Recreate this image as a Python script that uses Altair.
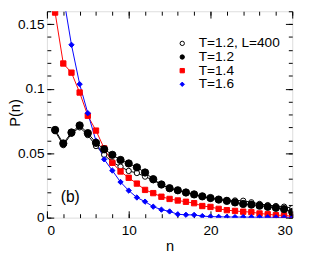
import altair as alt
import pandas as pd

FONT = "Liberation Sans"

series_names = ["T=1.2, L=400", "T=1.2", "T=1.4", "T=1.6"]

n_open = list(range(1, 31))
p_open = [0.067, 0.0562, 0.065, 0.070, 0.064, 0.0555, 0.0487, 0.043, 0.0395, 0.0362,
          0.0346, 0.0318, 0.029, 0.0255, 0.0228, 0.0212, 0.0195, 0.018, 0.0163, 0.015,
          0.014, 0.0135, 0.0133, 0.0131, 0.0119, 0.0106, 0.0097, 0.009, 0.0085, 0.0074]

n_filled = list(range(1, 31))
p_filled = [0.068, 0.0575, 0.066, 0.0715, 0.0655, 0.058, 0.053, 0.0487, 0.0447, 0.042,
            0.039, 0.035, 0.0298, 0.0257, 0.0228, 0.0212, 0.0195, 0.018, 0.0165, 0.0152,
            0.014, 0.013, 0.0118, 0.0106, 0.0101, 0.0093, 0.0084, 0.0076, 0.0066, 0.0044]

n_14 = list(range(1, 31))
p_14 = [0.159, 0.1195, 0.1124, 0.097, 0.079, 0.0675, 0.0537, 0.0425, 0.0358, 0.0309,
        0.0264, 0.0215, 0.019, 0.0162, 0.0145, 0.0133, 0.0123, 0.0112, 0.009, 0.0083,
        0.0068, 0.0058, 0.0052, 0.0046, 0.0043, 0.0032, 0.0026, 0.0019, 0.0018, 0.001]

n_16 = list(range(2, 31))
p_16 = [0.172, 0.134, 0.1035, 0.081, 0.0595, 0.0452, 0.0365, 0.0276, 0.021, 0.0156,
        0.0124, 0.0085, 0.0062, 0.0048, 0.0026, 0.0022, 0.0021, 0.0012, 0.0008, 0.0006,
        0.0005, 0.0004, 0.0004, 0.0003, 0.0003, 0.0003, 0.0002, 0.0002, 0.0002]

x_major = [0, 10, 20, 30]
x_minor = [0, 2, 4, 6, 8, 10, 12, 14, 16, 18, 20, 22, 24, 26, 28, 30]
y_major = [0, 0.05, 0.1, 0.15]
y_minor = [0, 0.01, 0.02, 0.03, 0.04, 0.05, 0.06, 0.07, 0.08, 0.09, 0.1,
           0.11, 0.12, 0.13, 0.14, 0.15, 0.16]

panel_label = ["(b)"]
panel_label_n = [2.85]
panel_label_p = [0.016]

rows = []
for name, ns, ps in zip(series_names, [n_open, n_filled, n_14, n_16],
                        [p_open, p_filled, p_14, p_16]):
    for n, p in zip(ns, ps):
        rows.append({"series": name, "n": n, "p": p})
df = pd.DataFrame(rows)
lab_df = pd.DataFrame({"t": panel_label, "n": panel_label_n, "p": panel_label_p})

xs = alt.Scale(domain=[0, 30], nice=False, zero=False)
ys = alt.Scale(domain=[0, 0.16], nice=False, zero=False)

line_colors = ["black", "black", "#ff0000", "#0000ff"]
stroke_scale = alt.Scale(domain=series_names, range=line_colors)
# data-sorted domain ("T=1.2", "T=1.2, L=400", "T=1.4", "T=1.6") -> same colours
line_scale = alt.Scale(range=line_colors)
fill_scale = alt.Scale(domain=series_names, range=["white", "black", "#ff0000", "#0000ff"])
shape_scale = alt.Scale(domain=series_names, range=["circle", "circle", "square", "diamond"])

MAJ = 7
MIN = 4


def tick_axis(orient, values, size, **kw):
    return alt.Axis(orient=orient, values=values, tickSize=size, offset=-size,
                    domain=False, grid=False, ticks=True, tickColor="black",
                    tickWidth=1, **kw)


ax_bottom = tick_axis("bottom", x_major, MAJ, labels=True, format="d",
                      labelPadding=6, labelFontSize=14, labelFont=FONT,
                      labelColor="black", title="n", titleFont=FONT,
                      titleFontSize=15, titleFontWeight="normal", titleColor="black",
                      titleX=126, titleY=36, titleBaseline="middle")
ax_left = tick_axis("left", y_major, MAJ, labels=True, format=".2~f",
                    labelPadding=3, labelFontSize=14, labelFont=FONT,
                    labelColor="black", title="P(n)", titleFont=FONT,
                    titleFontSize=15, titleFontWeight="normal", titleColor="black",
                    titleX=-40, titleY=104, titleAngle=270, titleBaseline="middle",
                    titleAlign="center")
ax_top = tick_axis("top", x_major, MAJ, labels=False, title=None)
ax_right = tick_axis("right", y_major, MAJ, labels=False, title=None)
ax_bottom_m = tick_axis("bottom", x_minor, MIN, labels=False, title=None)
ax_left_m = tick_axis("left", y_minor, MIN, labels=False, title=None)
ax_top_m = tick_axis("top", x_minor, MIN, labels=False, title=None)
ax_right_m = tick_axis("right", y_minor, MIN, labels=False, title=None)

leg = alt.Legend(title=None, orient="none", legendX=132, legendY=26,
                 labelFont=FONT, labelFontSize=14, labelColor="black",
                 symbolSize=20, symbolStrokeWidth=1, labelOffset=10,
                 rowPadding=0, padding=0)

base = alt.Chart(df)

lines = base.mark_line(strokeWidth=1, clip=True).encode(
    x=alt.X("n:Q", scale=xs, axis=ax_bottom),
    y=alt.Y("p:Q", scale=ys, axis=ax_left),
    color=alt.Color("series:N", scale=line_scale, legend=None),
    detail="series:N",
)

# marker size comes from the point config so that the legend keeps its own symbolSize
points = base.mark_point(opacity=1, strokeWidth=1, clip=True).encode(
    x=alt.X("n:Q", scale=xs, axis=ax_top),
    y=alt.Y("p:Q", scale=ys, axis=ax_right),
    stroke=alt.Stroke("series:N", scale=stroke_scale, legend=leg),
    fill=alt.Fill("series:N", scale=fill_scale, legend=leg),
    shape=alt.Shape("series:N", scale=shape_scale, legend=leg),
)

# the filled T=1.2 circles are drawn a little larger in the reference
big_filled = base.transform_filter(alt.datum.series == series_names[1]).mark_point(
    opacity=1, filled=True, fill="black", stroke="black", strokeWidth=1,
    shape="circle", size=56, clip=True
).encode(
    x=alt.X("n:Q", scale=xs, axis=ax_top_m),
    y=alt.Y("p:Q", scale=ys, axis=ax_right_m),
)

minor1 = base.mark_point(opacity=0).encode(
    x=alt.X("n:Q", scale=xs, axis=ax_bottom_m),
    y=alt.Y("p:Q", scale=ys, axis=ax_left_m),
)

label = alt.Chart(lab_df).mark_text(font=FONT, fontSize=16, color="black",
                                    align="center", baseline="middle").encode(
    x=alt.X("n:Q", scale=xs, axis=None),
    y=alt.Y("p:Q", scale=ys, axis=None),
    text="t:N",
)

chart = alt.layer(lines, minor1, points, big_filled, label).resolve_axis(
    x="independent", y="independent"
).properties(
    width=252, height=212,
    autosize=alt.AutoSizeParams(type="none"),
    padding={"left": 40, "top": 0, "right": 9, "bottom": 34},
).configure_view(
    stroke="black", strokeWidth=1
).configure_point(
    size=40
).configure(font=FONT)

chart.save("out.html", embed_options={"renderer": "svg", "actions": False})
